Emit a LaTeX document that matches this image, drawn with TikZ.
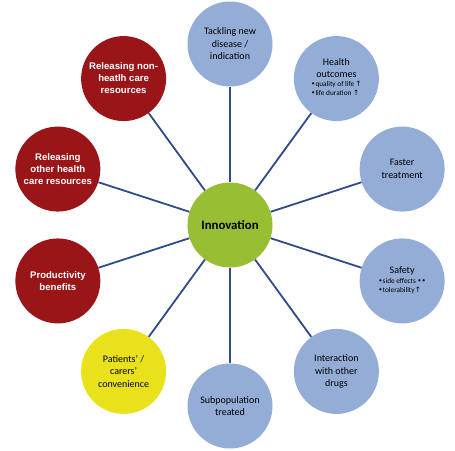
\documentclass[tikz,border=0pt]{standalone}
\usepackage{fontspec}
\setmainfont{Carlito}
\newfontfamily\arialfont{Liberation Sans}
\newfontfamily\symfont{DejaVu Sans}
\usetikzlibrary{positioning}
\definecolor{spoke}{HTML}{2F4B8A}
\definecolor{bubblue}{HTML}{94ADD6}
\definecolor{bubred}{HTML}{9A1518}
\definecolor{innogreen}{HTML}{98BE34}
\definecolor{bubyellow}{HTML}{E9E11B}
\newcommand{\up}{{\symfont\char"2191}}
\newcommand{\bul}{{\symfont\char"2022}}
\newcommand{\smalllist}[2]{{\fontsize{7.3}{9}\selectfont\begin{tabular}{@{}l@{}}\bul#1\\\bul#2\end{tabular}}}
\tikzset{
  bubble/.style={circle,minimum size=85pt,inner sep=0pt,align=center},
  bluebub/.style={bubble,fill=bubblue,font=\fontsize{10}{12.5}\selectfont},
  redbub/.style={bubble,fill=bubred,text=white,font=\arialfont\bfseries\fontsize{9.6}{12}\selectfont},
  yellowbub/.style={bubble,fill=bubyellow,font=\fontsize{10}{12.5}\selectfont},
  hub/.style={bubble,fill=innogreen,font=\bfseries\fontsize{12.8}{14}\selectfont},
  spokeline/.style={spoke,line width=1.8pt}
}
\begin{document}
\begin{tikzpicture}[x=1pt,y=1pt]
  \useasboundingbox (-230,-225) rectangle (225,225);
  \node[hub] (inno) at (0,0) {Innovation};
  % ring of outcome bubbles
  \node[bluebub] (tackle) at (90:181) {Tackling new\\disease /\\indication};
  \node[bluebub] (health) at (54:181) {Health\\outcomes\\[1pt]\smalllist{quality of life\,\up}{life duration \up}};
  \node[bluebub] (faster) at (18:181) {Faster\\treatment};
  \node[bluebub] (safety) at (-18:181) {Safety\\[1pt]\smalllist{side effects\,\bul\bul}{tolerability\up}};
  \node[bluebub] (interact) at (-54:181) {Interaction\\with other\\drugs};
  \node[bluebub] (subpop) at (-90:181) {Subpopulation\\treated};
  \node[yellowbub] (convenience) at (-126:181) {Patients' /\\carers'\\convenience};
  \node[redbub] (product) at (-162:181) {Productivity\\benefits};
  \node[redbub] (otherhc) at (162:181) {Releasing\\other health\\care resources};
  \node[redbub] (nonhc) at (126:181) {Releasing non-\\heatlh care\\resources};
  \foreach \b in {tackle,health,faster,safety,interact,subpop,convenience,product,otherhc,nonhc}
    \draw[spokeline] (inno) -- (\b);
\end{tikzpicture}
\end{document}
